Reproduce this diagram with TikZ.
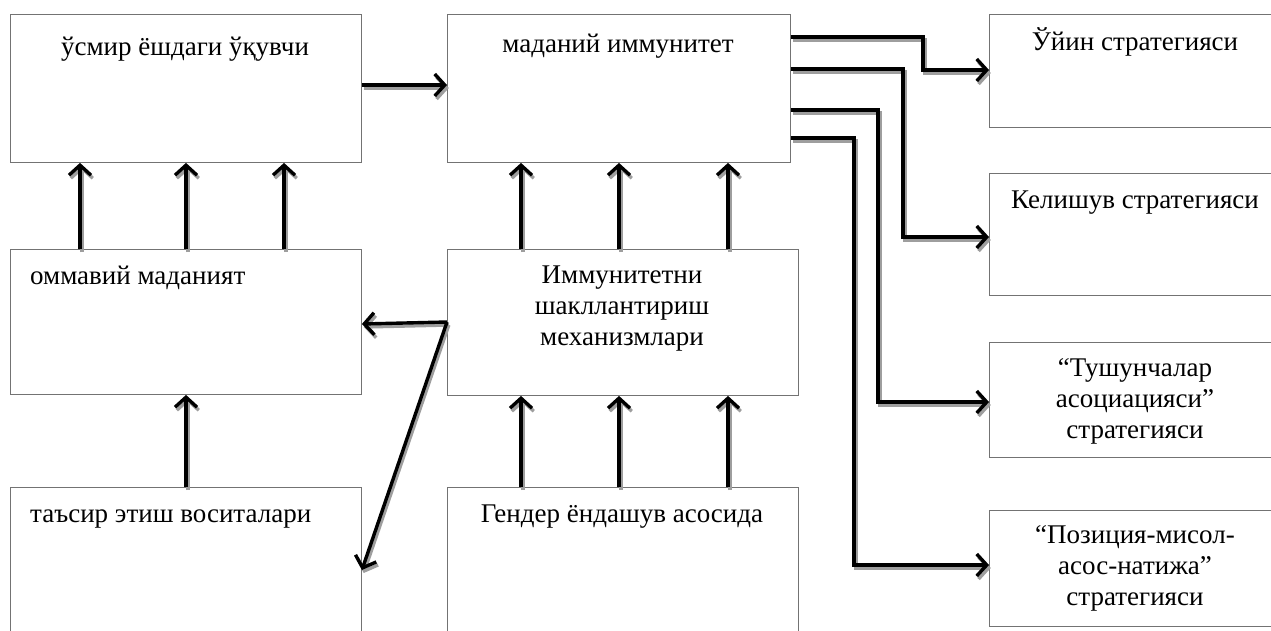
\documentclass[tikz,border=0pt]{standalone}
\usepackage{fontspec}
\setmainfont{Liberation Serif}
\newfontfamily\tnr{Liberation Serif}
\usetikzlibrary{arrows.meta}
\begin{document}
\begin{tikzpicture}[x=1pt,y=-1pt,
  box/.style={draw=black!55, line width=0.9pt, rectangle, anchor=north west, inner sep=0pt},
  arrbase/.style={line width=3.4pt, line join=miter, -{Straight Barb[length=10pt,width=22pt]}},
  arr/.style={arrbase, draw=black},
  arrsh/.style={arrbase, draw=black!38},
  txt/.style={font=\tnr\fontsize{27}{31}\selectfont, align=center, inner sep=0pt}]
\newcommand\sarrow[1]{%
  \begin{scope}[transform canvas={shift={(1.8pt,-3pt)}}]\draw[arrsh] #1;\end{scope}
  \draw[arr] #1;}
\useasboundingbox (0,0) rectangle (1271,630);
% boxes
\node[box, minimum width=351pt, minimum height=148pt] (usm) at (10,14) {};
\node[box, minimum width=351pt, minimum height=145pt] (omm) at (10,249) {};
\node[box, minimum width=351pt, minimum height=150pt] (tas) at (10,487) {};
\node[box, minimum width=343pt, minimum height=148pt] (mad) at (447,14) {};
\node[box, minimum width=351pt, minimum height=146pt] (imm) at (447,249) {};
\node[box, minimum width=351pt, minimum height=150pt] (gen) at (447,487) {};
\node[box, minimum width=292pt, minimum height=113pt] (ujin) at (989,14) {};
\node[box, minimum width=292pt, minimum height=122pt] (kel) at (989,173) {};
\node[box, minimum width=292pt, minimum height=115pt] (tush) at (989,342) {};
\node[box, minimum width=292pt, minimum height=116pt] (poz) at (989,510) {};
% texts
\node[txt, anchor=base] (usmT) at (185,55) {ўсмир ёшдаги ўқувчи};
\node[txt, anchor=base west] (ommT) at (30,284) {оммавий маданият};
\node[txt, anchor=base west] (tasT) at (30,522) {таъсир этиш воситалари};
\node[txt, anchor=base] (madT) at (618,52) {маданий иммунитет};
\node[txt, anchor=base] (immT) at (622,345) {Иммунитетни\\шакллантириш\\механизмлари};
\node[txt, anchor=base] (genT) at (622,522) {Гендер ёндашув асосида};
\node[txt, anchor=base] (ujinT) at (1135,50) {Ўйин стратегияси};
\node[txt, anchor=base] (kelT) at (1135,208) {Келишув стратегияси};
\node[txt, anchor=base] (tushT) at (1135,438) {“Тушунчалар\\асоциацияси”\\стратегияси};
\node[txt, anchor=base] (pozT) at (1135,605) {“Позиция-мисол-\\асос-натижа”\\стратегияси};
% arrows
\sarrow{(usm.east |- 0,85) -- (mad.west |- 0,85)}
\foreach \x in {80,186,284} {\sarrow{(omm.north -| \x,0) -- (usm.south -| \x,0)}}
\foreach \x in {521,619,728} {\sarrow{(imm.north -| \x,0) -- (mad.south -| \x,0)}}
\foreach \x in {521,619,728} {\sarrow{(gen.north -| \x,0) -- (imm.south -| \x,0)}}
\sarrow{(tas.north -| 186,0) -- (omm.south -| 186,0)}
\sarrow{(imm.west |- 0,322) -- (omm.east |- 0,324)}
\sarrow{(imm.west |- 0,322) -- (omm.east |- 0,570)}
\sarrow{(mad.east |- 0,37) -- (923,37) -- (923,70) -- (ujin.west |- 0,70)}
\sarrow{(mad.east |- 0,69) -- (903,69) -- (903,237) -- (kel.west |- 0,237)}
\sarrow{(mad.east |- 0,110) -- (878,110) -- (878,402) -- (tush.west |- 0,402)}
\sarrow{(mad.east |- 0,138) -- (854,138) -- (854,565) -- (poz.west |- 0,565)}
\end{tikzpicture}
\end{document}
